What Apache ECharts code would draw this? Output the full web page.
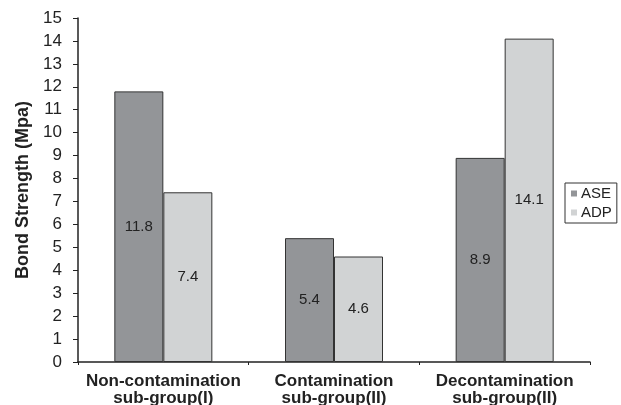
<!DOCTYPE html>
<html>
<head>
<meta charset="utf-8">
<script src="https://cdn.jsdelivr.net/npm/echarts@6/dist/echarts.min.js"></script>
<style>
html,body{margin:0;padding:0;background:#fff;}
#c{width:621px;height:405px;}
</style>
</head>
<body>
<div id="c"></div>
<script>
const categories = ['Non-contamination\nsub-group(I)', 'Contamination\nsub-group(II)', 'Decontamination\nsub-group(II)'];
const aseValues = [11.8, 5.4, 8.9];
const adpValues = [7.4, 4.6, 14.1];
const seriesNames = ['ASE', 'ADP'];
const yTitle = 'Bond Strength (Mpa)';

const FONT = '"Liberation Sans", Arial, sans-serif';
const chart = echarts.init(document.getElementById('c'), null, {renderer: 'canvas'});
const lbl = {
  show: true, position: 'inside', color: '#222', fontSize: 15, fontFamily: FONT,
  formatter: p => p.value.toFixed(1)
};
chart.setOption({
  animation: false,
  backgroundColor: '#fff',
  grid: {left: 78, right: 31, top: 18, bottom: 43, containLabel: false, outerBoundsMode: 'none'},
  legend: {
    data: seriesNames,
    orient: 'vertical',
    left: 565, top: 183,
    borderColor: '#333', borderWidth: 1,
    padding: [3, 5, 3, 6],
    itemGap: 4,
    itemWidth: 6, itemHeight: 6,
    icon: 'rect',
    itemStyle: {borderWidth: 0},
    textStyle: {fontSize: 15, color: '#222', fontFamily: FONT, padding: [0, 0, 0, -1]}
  },
  xAxis: {
    type: 'category',
    data: categories,
    axisLine: {lineStyle: {color: '#222', width: 1.5}},
    axisTick: {show: true, length: 3, lineStyle: {color: '#222'}},
    axisLabel: {interval: 0, hideOverlap: false, fontSize: 17, fontWeight: 'bold', color: '#222', fontFamily: FONT, lineHeight: 17, margin: 11}
  },
  yAxis: {
    type: 'value',
    min: 0, max: 15, interval: 1,
    name: yTitle,
    nameLocation: 'middle',
    nameGap: 44,
    nameTextStyle: {fontSize: 18, fontWeight: 'bold', color: '#222', fontFamily: FONT},
    axisLine: {show: true, lineStyle: {color: '#222', width: 1.5}},
    axisTick: {show: true, length: 5, lineStyle: {color: '#222'}},
    splitLine: {show: false},
    axisLabel: {fontSize: 17, color: '#222', fontFamily: FONT, margin: 16}
  },
  series: [
    {name: seriesNames[0], type: 'bar', data: aseValues, barWidth: 49, barGap: '0%',
     itemStyle: {color: '#939598', borderColor: '#333', borderWidth: 1}, label: lbl},
    {name: seriesNames[1], type: 'bar', data: adpValues, barWidth: 49, barGap: '0%',
     itemStyle: {color: '#d1d3d4', borderColor: '#333', borderWidth: 1}, label: lbl}
  ]
});
</script>
</body>
</html>
